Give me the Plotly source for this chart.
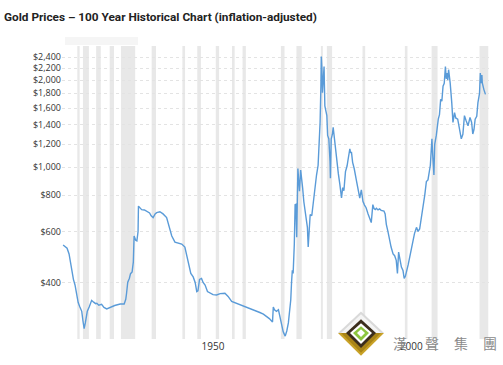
import plotly.graph_objects as go

# ---- data ----
years = [1915.0, 1915.5, 1916.0, 1916.5, 1917.0, 1917.3, 1917.6, 1918.0, 1918.4, 1918.8,
         1919.2, 1919.7, 1920.0, 1920.3, 1920.6, 1921.1, 1921.6, 1922.2, 1922.7, 1923.2,
         1923.5, 1924.0, 1924.7, 1925.3, 1926.0, 1926.6, 1927.3, 1928.0, 1928.7, 1929.4,
         1930.4, 1930.8, 1931.0, 1931.3, 1931.7, 1932.0, 1932.4, 1932.7, 1932.9, 1933.3,
         1933.6, 1933.9, 1934.0, 1934.4, 1934.8, 1935.5, 1936.1, 1936.8, 1937.2, 1937.7,
         1938.2, 1938.6, 1939.4, 1940.2, 1941.1, 1941.8, 1942.4, 1943.2, 1944.0, 1944.9,
         1945.7, 1946.2, 1946.6, 1947.2, 1947.8, 1948.3, 1948.7, 1949.0, 1949.4, 1949.9,
         1950.3, 1950.8, 1951.4, 1952.0, 1952.8, 1953.7, 1954.6, 1955.8, 1956.6, 1957.5,
         1958.7, 1960.0, 1961.3, 1962.5, 1963.5, 1964.6, 1965.5, 1966.3, 1967.0, 1967.8,
         1968.0, 1968.3, 1968.8, 1969.3, 1969.7, 1970.1, 1970.5, 1971.0, 1971.4, 1971.8,
         1972.1, 1972.4, 1972.6, 1972.8, 1973.0, 1973.3, 1973.5, 1973.7, 1973.9, 1974.2,
         1974.4, 1974.6, 1974.9, 1975.1, 1975.4, 1975.7, 1976.0, 1976.3, 1976.6, 1976.8,
         1977.0, 1977.3, 1977.7, 1978.1, 1978.5, 1978.9, 1979.3, 1979.6, 1979.8, 1980.0,
         1980.1, 1980.25, 1980.4, 1980.6, 1980.8, 1981.0, 1981.2, 1981.5, 1981.7, 1982.0,
         1982.3, 1982.4, 1982.6, 1982.9, 1983.1, 1983.4, 1983.6, 1984.0, 1984.4, 1984.8,
         1985.2, 1985.5, 1985.8, 1986.2, 1986.6, 1986.9, 1987.3, 1987.5, 1987.7, 1988.0,
         1988.4, 1989.0, 1989.4, 1989.8, 1990.2, 1990.6, 1991.0, 1991.4, 1991.9, 1992.3,
         1992.7, 1993.1, 1993.4, 1993.7, 1994.0, 1994.4, 1994.8, 1995.2, 1995.9, 1996.2,
         1996.5, 1996.9, 1997.3, 1997.7, 1998.2, 1998.6, 1999.0, 1999.3, 1999.6, 1999.9,
         2000.3, 2000.7, 2001.0, 2001.3, 2001.6, 2002.0, 2002.4, 2002.8, 2003.2, 2003.6,
         2004.1, 2004.5, 2004.9, 2005.5, 2006.0, 2006.2, 2006.6, 2007.0, 2007.6, 2008.0,
         2008.2, 2008.5, 2008.7, 2009.1, 2009.6, 2009.9, 2010.2, 2010.5, 2010.8, 2011.1,
         2011.4, 2011.6, 2011.8, 2012.0, 2012.2, 2012.6, 2013.0, 2013.3, 2013.7, 2014.0,
         2014.5, 2014.9, 2015.4, 2015.8, 2016.2, 2016.6, 2017.1, 2017.6, 2018.0, 2018.3,
         2018.6, 2018.9, 2019.3, 2019.6, 2020.0, 2020.2, 2020.4, 2020.6, 2020.7, 2021.1,
         2021.5]
prices = [539, 532, 525, 502, 450, 425, 410, 392, 365, 341,
          330, 318, 295, 277, 290, 318, 330, 347, 342, 338,
          339, 334, 336, 328, 324, 327, 329, 333, 335, 337,
          337, 350, 367, 401, 413, 429, 435, 470, 579, 560,
          557, 600, 734, 722, 714, 712, 706, 695, 680, 670,
          690, 697, 702, 690, 670, 625, 579, 551, 548, 543,
          530, 495, 459, 430, 418, 400, 372, 374, 410, 413,
          400, 392, 372, 367, 363, 362, 366, 367, 358, 344,
          339, 335, 330, 325, 320, 315, 311, 306, 300, 292,
          329, 322, 318, 322, 305, 283, 270, 261, 272, 290,
          320, 348, 400, 441, 430, 543, 743, 745, 573, 990,
          900, 826, 977, 930, 847, 760, 706, 660, 620, 530,
          600, 687, 680, 763, 850, 940, 1016, 1200, 1429, 1900,
          2410, 2200, 1808, 2000, 2228, 1630, 1560, 1507, 1288, 1254,
          1050, 916, 1250, 1300, 1374, 1250, 1189, 1044, 950, 869,
          783, 850, 830, 966, 1010, 1072, 1158, 1120, 1130, 1040,
          990, 893, 826, 783, 836, 763, 740, 725, 690, 670,
          644, 743, 720, 714, 722, 712, 718, 710, 706, 690,
          635, 600, 557, 530, 502, 495, 477, 430, 509, 480,
          452, 440, 413, 420, 435, 460, 489, 520, 557, 590,
          620, 600, 612, 687, 760, 803, 893, 904, 1016, 1254,
          1100, 940, 1200, 1288, 1466, 1520, 1716, 1690, 1905, 1950,
          2228, 2020, 2114, 2000, 2172, 1956, 1671, 1429, 1545, 1480,
          1466, 1380, 1254, 1300, 1507, 1450, 1390, 1486, 1430, 1303,
          1350, 1466, 1500, 1671, 1800, 2114, 1950, 2080, 1956, 1854,
          1785]

recession_starts = [1918.58, 1920.0, 1923.33, 1926.75, 1929.58, 1937.33, 1945.08, 1948.83,
                    1953.5, 1957.58, 1960.25, 1969.92, 1973.83, 1980.0, 1981.5, 1990.5,
                    2001.17, 2007.92, 2020.0]
recession_ends = [1919.17, 1921.5, 1924.5, 1927.83, 1933.17, 1938.42, 1945.75, 1949.75,
                  1954.33, 1958.25, 1961.08, 1970.83, 1975.17, 1980.5, 1982.83, 1991.17,
                  2001.83, 2009.42, 2022.2]

y_tickvals = [400, 600, 800, 1000, 1200, 1400, 1600, 1800, 2000, 2200, 2400]
y_ticktext = ["$400", "$600", "$800", "$1,000", "$1,200", "$1,400", "$1,600",
              "$1,800", "$2,000", "$2,200", "$2,400"]
x_tickvals = [1950, 2000]
x_ticktext = ["1950", "2000"]

title_text = "Gold Prices \u2013 100 Year Historical Chart (inflation-adjusted)"
watermark_chars = ["漢", "聲", "集", "團"]

# ---- layout geometry (pixels) ----
W, H = 503, 365
PL, PR, PT, PB = 62, 489, 46, 343


def px(x):
    return (x - PL) / (PR - PL)


def py(y):
    return (PB - y) / (PB - PT)


fig = go.Figure()
fig.add_trace(go.Scatter(x=years, y=prices, mode="lines",
                         line=dict(color="#5a9bd8", width=1.4),
                         hoverinfo="skip", showlegend=False))

shapes = []
for s, e in zip(recession_starts, recession_ends):
    shapes.append(dict(type="rect", xref="x", yref="paper", x0=s, x1=e, y0=0, y1=1,
                       fillcolor="#e8e8e8", line=dict(width=0), layer="below"))

# faint box at top
shapes.append(dict(type="rect", xref="paper", yref="paper",
                   x0=px(65), x1=px(138), y0=py(45), y1=py(37),
                   fillcolor="#f5f5f5", line=dict(width=0), layer="below"))


def poly(pts, color):
    path = "M " + " L ".join(f"{px(a):.5f},{py(b):.5f}" for a, b in pts) + " Z"
    return dict(type="path", xref="paper", yref="paper", path=path,
                fillcolor=color, line=dict(width=0), layer="above")


cx, cy = 361, 337
shapes.append(poly([(cx - 23, cy), (cx, cy - 22), (cx + 23, cy)], "#d9d9d9"))
shapes.append(poly([(cx - 23, cy), (cx, cy + 23), (cx + 23, cy)], "#c9a227"))
shapes.append(poly([(cx - 20, cy), (cx, cy - 19), (cx + 20, cy)], "#f4f4f4"))
shapes.append(poly([(cx - 20, cy), (cx, cy + 20), (cx + 20, cy)], "#a98416"))
shapes.append(poly([(cx - 15, cy), (cx, cy - 14), (cx + 15, cy), (cx, cy + 15)], "#3b2d1c"))
shapes.append(poly([(cx - 11, cy), (cx, cy - 10), (cx + 11, cy), (cx, cy + 11)], "#ffffff"))
shapes.append(poly([(cx - 8, cy), (cx, cy - 7), (cx + 8, cy), (cx, cy + 8)], "#8dc63f"))
shapes.append(poly([(cx - 4, cy), (cx, cy - 4), (cx + 4, cy), (cx, cy + 4)], "#ffffff"))

annotations = []
for ch, xc in zip(watermark_chars, [400, 432, 461, 490]):
    annotations.append(dict(text=ch, xref="paper", yref="paper", x=px(xc), y=py(347),
                            xanchor="center", yanchor="middle", showarrow=False,
                            borderpad=0,
                            font=dict(family="Noto Sans CJK TC", size=14, color="#8a8a8a")))

fig.update_layout(
    width=W, height=H,
    margin=dict(l=PL, r=W - PR, t=PT, b=H - PB),
    paper_bgcolor="white", plot_bgcolor="white",
    title=dict(text="<b>" + title_text + "</b>", xref="container", yref="container",
               x=4 / W, xanchor="left", y=1 - 17 / H, yanchor="middle",
               font=dict(family="Roboto", size=11.8, color="#222222")),
    shapes=shapes, annotations=annotations,
    xaxis=dict(range=[1914.72, 2022.39], showgrid=False, zeroline=False, showline=False,
               tickvals=x_tickvals, ticktext=x_ticktext, ticks="", ticklabelshift=11,
               tickfont=dict(family="Open Sans", size=10, color="#333333")),
    yaxis=dict(type="log", range=[2.4068, 3.4187], tickvals=y_tickvals, ticktext=y_ticktext,
               showgrid=True, gridcolor="#e3e3e3", gridwidth=1, griddash="3px,3px",
               zeroline=False, showline=False, ticks="",
               tickfont=dict(family="Open Sans", size=9, color="#333333")),
)

fig.write_html("out.html", config={"displayModeBar": False},
               post_script="document.body.style.margin='0';")
